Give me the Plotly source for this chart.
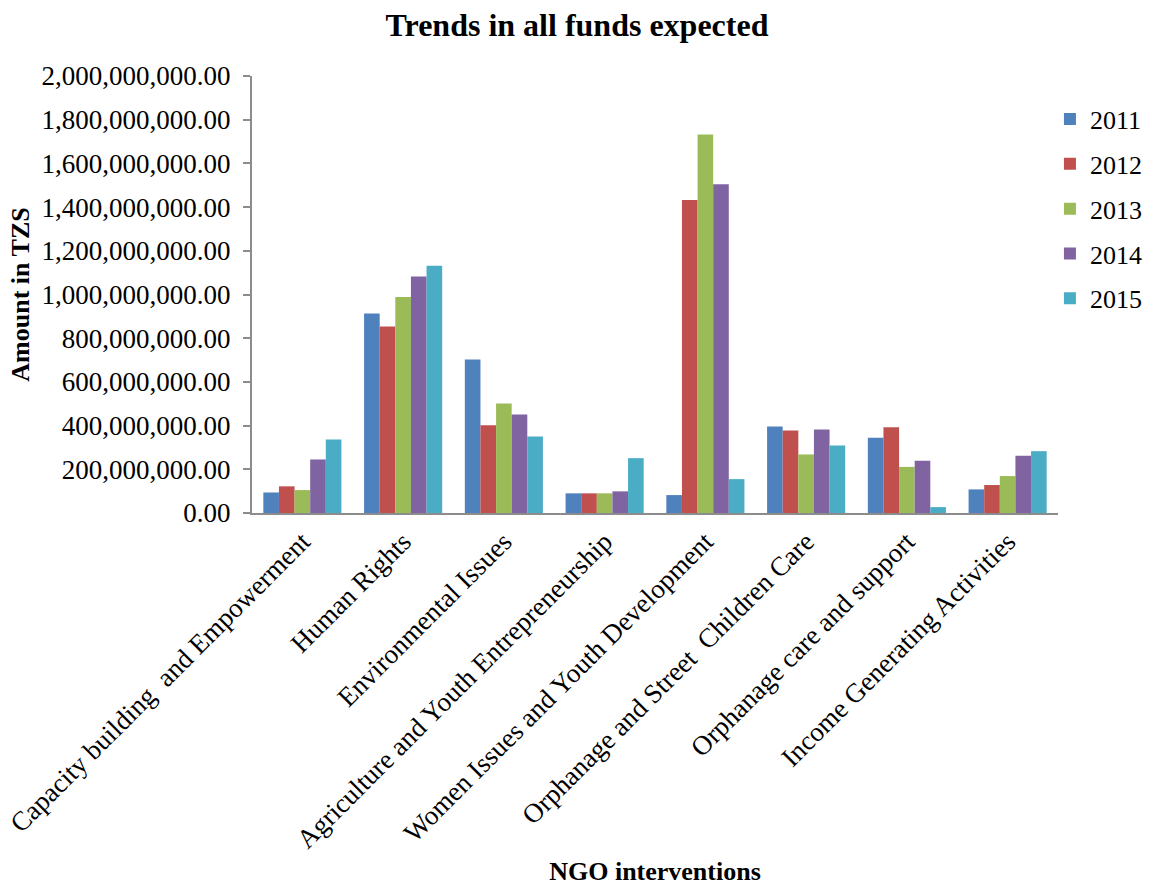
import plotly.graph_objects as go

# NGO intervention categories (x axis)
categories = [
    "Capacity building  and Empowerment",
    "Human Rights",
    "Environmental Issues",
    "Agriculture and Youth Entrepreneurship",
    "Women Issues and Youth Development",
    "Orphanage and Street  Children Care",
    "Orphanage care and support",
    "Income Generating Activities",
]

# Expected funds per year, in TZS
funds_2011 = [94e6, 913e6, 702e6, 90e6, 82e6, 396e6, 344e6, 108e6]
funds_2012 = [122e6, 854e6, 402e6, 90e6, 1432e6, 378e6, 393e6, 128e6]
funds_2013 = [105e6, 988e6, 501e6, 90e6, 1732e6, 268e6, 211e6, 169e6]
funds_2014 = [245e6, 1082e6, 451e6, 99e6, 1505e6, 382e6, 239e6, 262e6]
funds_2015 = [336e6, 1132e6, 350e6, 251e6, 155e6, 309e6, 27e6, 283e6]

years = ["2011", "2012", "2013", "2014", "2015"]
series = [funds_2011, funds_2012, funds_2013, funds_2014, funds_2015]
colors = ["#4F81BD", "#C0504D", "#9BBB59", "#8064A2", "#4BACC6"]

# Keep repeated spaces in category labels
labels = [c.replace("  ", " \u00a0") for c in categories]

FONT = "Liberation Serif, Times New Roman, serif"

fig = go.Figure()
for year, values, color in zip(years, series, colors):
    fig.add_trace(go.Bar(
        x=labels,
        y=values,
        name=year,
        legendgroup=year,
        marker=dict(color=color, line=dict(width=0)),
    ))

fig.update_layout(
    width=1154,
    height=886,
    barmode="group",
    bargap=0.225,
    bargroupgap=0,
    plot_bgcolor="white",
    paper_bgcolor="white",
    font=dict(family=FONT, size=27, color="black"),
    margin=dict(l=252, r=96, t=76, b=373, autoexpand=False),
    title=dict(
        text="<b>Trends in all funds expected</b>",
        x=0.5, xanchor="center",
        y=0.972, yanchor="middle",
        font=dict(family=FONT, size=32, color="black"),
    ),
    legend=dict(
        x=0.99, xanchor="left",
        y=0.955, yanchor="top",
        font=dict(family=FONT, size=26, color="black"),
        tracegroupgap=8,
        bgcolor="rgba(0,0,0,0)",
    ),
    xaxis=dict(
        tickangle=-45,
        showline=True,
        linecolor="#8c8c8c",
        linewidth=2,
        ticks="",
        tickfont=dict(family=FONT, size=27, color="black"),
        title=dict(
            text="<b>NGO interventions</b>",
            font=dict(family=FONT, size=26, color="black"),
            standoff=11,
        ),
    ),
    yaxis=dict(
        range=[0, 2e9],
        dtick=2e8,
        tickformat=",.2f",
        showgrid=False,
        zeroline=False,
        showline=True,
        linecolor="#8c8c8c",
        linewidth=2,
        ticks="outside",
        ticklen=7,
        tickcolor="#8c8c8c",
        tickwidth=2,
        ticklabelstandoff=7,
        tickfont=dict(family=FONT, size=27, color="black"),
        title=dict(
            text="<b>Amount in TZS</b>",
            font=dict(family=FONT, size=26, color="black"),
            standoff=4,
        ),
    ),
)

fig.write_html("out.html")
